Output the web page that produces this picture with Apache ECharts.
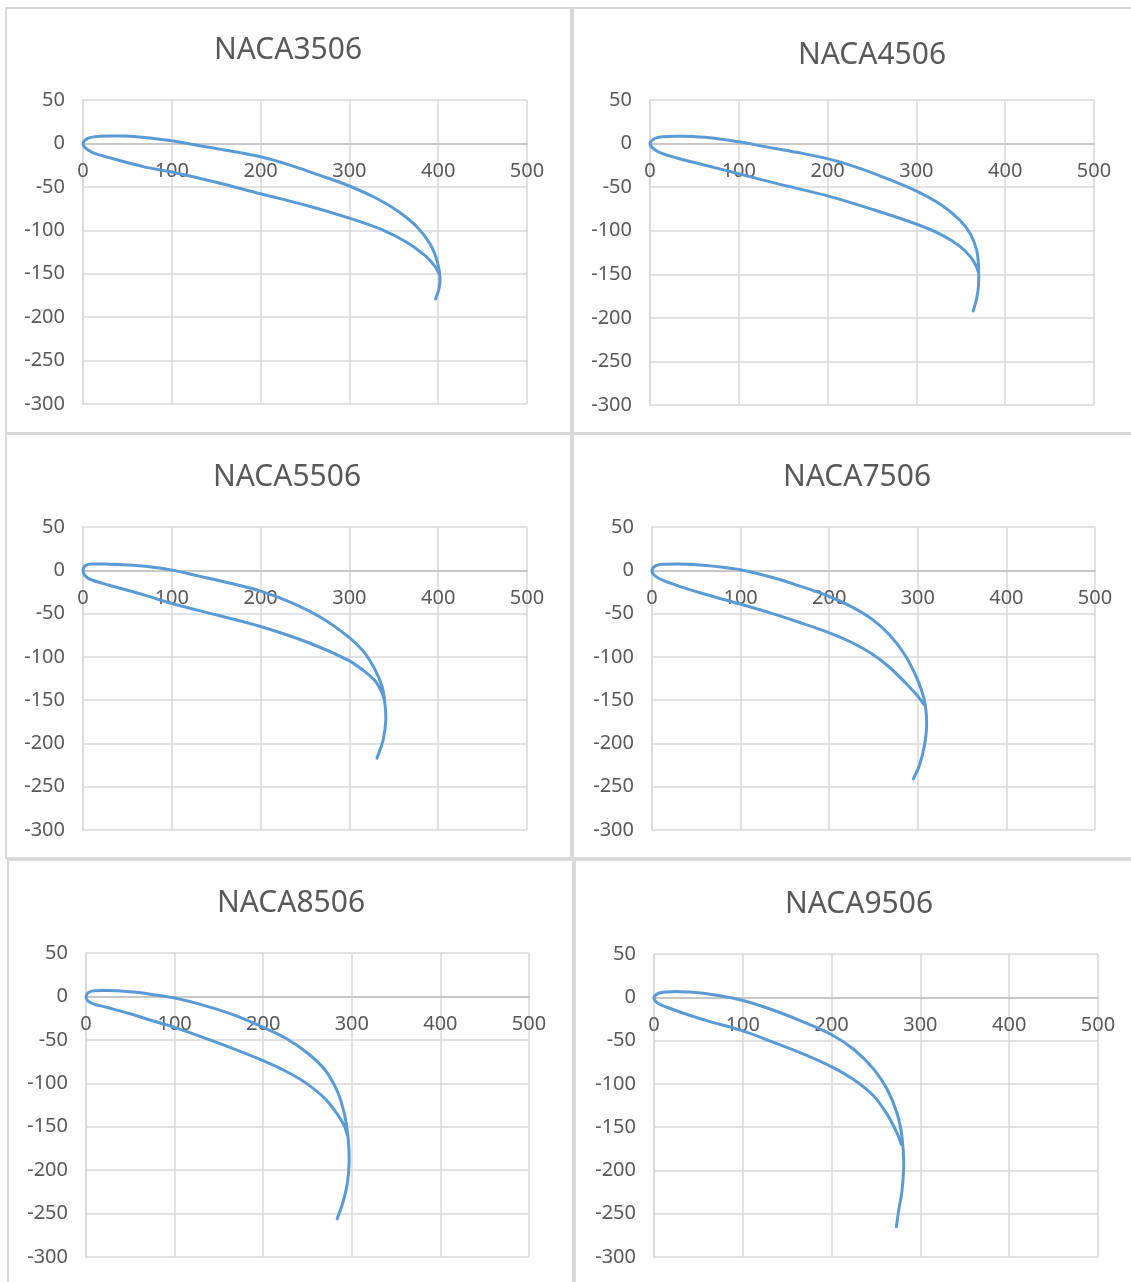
<!DOCTYPE html>
<html>
<head>
<meta charset="utf-8">
<script src="https://cdn.jsdelivr.net/npm/echarts@6/dist/echarts.min.js"></script>
<style>
html,body{margin:0;padding:0;background:#fff;}
#chart{width:1131px;height:1282px;}
</style>
</head>
<body>
<div id="chart"></div>
<script>
// ---- data ----
const titles = ['NACA3506', 'NACA4506', 'NACA5506', 'NACA7506', 'NACA8506', 'NACA9506'];
const xTicks = [0, 100, 200, 300, 400, 500];
const yTicks = [50, 0, -50, -100, -150, -200, -250, -300];

const upper3506 = [[0,0],[5.3,5.8],[13.5,7.7],[28,8.5],[48,8.5],[69,6.9],[100,3.1],[130,-2.3],[165,-8.5],[200,-15.4],[233,-25],[266,-36.5],[300,-49],[332,-64],[356,-79],[377,-97],[391,-116],[399,-136],[402,-154],[401,-167],[397,-179]];
const lower3506 = [[0,0],[3.3,-5.8],[11.5,-10.8],[28,-16],[69,-27],[100,-33],[151,-45],[200,-58],[254,-72],[300,-86],[336,-99],[365,-114],[385,-129],[396,-141],[401,-150]];

const upper4506 = [[0,0],[5.2,5.8],[13.3,7.7],[30,8.5],[50,8],[70.5,6.5],[100,2],[131,-3.8],[165,-10],[200,-17.3],[232,-27],[264,-39],[299,-54],[329,-71],[349,-88],[361,-104],[368,-123],[370,-142],[370,-162],[368,-177],[364,-192]];
const lower4506 = [[0,0],[4,-5.8],[12,-10.8],[30,-16.5],[70.5,-27],[100,-34.6],[151,-48],[200,-60],[252,-76],[299,-92],[329,-105],[349,-118],[361,-130],[367,-140],[370,-148]];

const upper5506 = [[0,0],[3.3,5.8],[11,7.2],[29.5,7],[50,6.2],[70.5,4.6],[99,0.5],[132,-7],[166,-15],[200,-24],[234,-37],[267,-54],[299,-77],[316,-94],[329,-115],[337,-135],[340,-154],[341,-173],[338,-196],[331,-217]];
const lower5506 = [[0,0],[3,-7],[11,-11.5],[29.5,-17.3],[70.5,-29],[99,-38],[152,-52],[200,-65],[255,-84],[299,-104],[316,-116],[329,-128],[336,-140],[340,-152]];

const upper7506 = [[0,0],[4.5,5.5],[15.8,7],[31,7.3],[46,6.8],[68.5,4.8],[98.6,0.8],[136,-8.4],[166,-18],[199.5,-30],[226.6,-42.8],[249,-57],[268,-74.5],[285,-97],[296,-118],[304,-138],[308.5,-156],[310,-179],[307.5,-202],[302,-225],[295,-241]];
const lower7506 = [[0,0],[2.6,-5.7],[12,-11.5],[31,-18.5],[61,-28],[99.4,-39],[136,-50],[166,-60],[199.5,-72],[226.6,-84],[249,-97],[268,-112],[287,-131],[298,-143],[307,-155]];

const upper8506 = [[0,0],[2.9,4.6],[10,6.5],[25,6.8],[46,5.7],[66,3.6],[100,-1.9],[132,-10],[166,-21],[200,-35.6],[227,-49],[251,-66],[270,-85],[284,-110],[292,-137],[296,-165],[297,-190],[295,-215],[290,-237],[283.5,-256]];
const lower8506 = [[0,0],[2,-5],[9,-8.8],[25,-13],[50,-20],[75,-28],[100,-35.6],[149,-53.5],[200,-74],[231,-89],[250,-101],[270,-118],[284,-136],[292,-150],[295,-160]];

const upper9506 = [[0,0],[4.9,4.6],[14.3,6.2],[29.3,6.5],[48,5.4],[70.7,2.3],[99.2,-3.5],[134.6,-15],[164.7,-27],[199.6,-43],[224.8,-60],[247.4,-83],[262.4,-106],[273.7,-134],[279.3,-161.5],[281.2,-192],[279.3,-223],[275.6,-246],[272.9,-265]];
const lower9506 = [[0,0],[3,-5.8],[14.3,-11.5],[29.3,-17],[59.4,-27],[99.2,-38.5],[134.6,-52],[164.7,-64],[199.6,-80],[224.8,-95],[247.4,-114],[262.4,-135],[273.7,-157],[278.5,-170]];

const uppers = [upper3506, upper4506, upper5506, upper7506, upper8506, upper9506];
const lowers = [lower3506, lower4506, lower5506, lower7506, lower8506, lower9506];

// ---- layout ----
const grids = [
  {left: 83, top: 100, width: 444, height: 304},
  {left: 650, top: 100, width: 444, height: 305},
  {left: 83, top: 527, width: 444, height: 303},
  {left: 652, top: 527, width: 443, height: 303},
  {left: 86, top: 953, width: 443, height: 304},
  {left: 654, top: 954, width: 444, height: 303}
];
const titlePos = [[288, 50], [872, 55], [287, 477], [857, 477], [291, 903], [859, 904]];
const frames = [
  [6, 8, 565, 425], [573, 8, 570, 425],
  [6, 434, 565, 424], [573, 434, 570, 424],
  [8, 860, 565, 430], [575, 860, 570, 430]
];

const labelStyle = {color: '#595959', fontSize: 20, fontFamily: 'Noto Sans'};
const gridColor = '#d9d9d9';
const lineColor = '#5b9bd5';

// smooth path through the mapped data points (cubic Bezier, Catmull-Rom style tangents)
function smoothPath(px, s) {
  const n = px.length;
  let d = 'M' + px[0][0] + ' ' + px[0][1];
  const tan = [];
  for (let i = 0; i < n; i++) {
    const p0 = px[Math.max(0, i - 1)], p2 = px[Math.min(n - 1, i + 1)];
    tan.push([p2[0] - p0[0], p2[1] - p0[1]]);
  }
  for (let i = 0; i < n - 1; i++) {
    const a = px[i], b = px[i + 1];
    const segLen = Math.hypot(b[0] - a[0], b[1] - a[1]);
    const ta = tan[i], tb = tan[i + 1];
    const la = Math.hypot(ta[0], ta[1]) || 1, lb = Math.hypot(tb[0], tb[1]) || 1;
    const c1 = [a[0] + ta[0] / la * segLen * s, a[1] + ta[1] / la * segLen * s];
    const c2 = [b[0] - tb[0] / lb * segLen * s, b[1] - tb[1] / lb * segLen * s];
    d += ' C' + c1[0] + ' ' + c1[1] + ' ' + c2[0] + ' ' + c2[1] + ' ' + b[0] + ' ' + b[1];
  }
  return d;
}

const xAxes = [], yAxes = [], series = [], graphics = [];
for (let i = 0; i < 6; i++) {
  const g = grids[i];
  const zeroFromBottom = g.height * (0 - yTicks[yTicks.length - 1]) / (yTicks[0] - yTicks[yTicks.length - 1]);
  xAxes.push({
    type: 'value', gridIndex: i, min: xTicks[0], max: xTicks[xTicks.length - 1], interval: 100,
    axisLine: {show: true, onZero: true, lineStyle: {color: '#bfbfbf', width: 1.5}},
    axisTick: {show: false},
    axisLabel: Object.assign({margin: -(zeroFromBottom - 18)}, labelStyle),
    splitLine: {show: true, lineStyle: {color: gridColor, width: 1.5}}
  });
  yAxes.push({
    type: 'value', gridIndex: i, min: yTicks[yTicks.length - 1], max: yTicks[0], interval: 50,
    axisLine: {show: true, onZero: false, lineStyle: {color: gridColor, width: 1.5}},
    axisTick: {show: false},
    axisLabel: Object.assign({margin: 18}, labelStyle),
    splitLine: {show: true, lineStyle: {color: gridColor, width: 1.5}}
  });
  const pts = lowers[i].slice().reverse().concat(uppers[i].slice(1));
  series.push({
    type: 'custom', coordinateSystem: 'cartesian2d', xAxisIndex: i, yAxisIndex: i,
    data: pts, z: 5, silent: true,
    renderItem: function (params, api) {
      if (params.dataIndex !== 0) return null;
      const px = pts.map(function (p) { return api.coord(p); });
      return {
        type: 'path',
        shape: {pathData: smoothPath(px, 0.36)},
        style: {fill: 'none', stroke: lineColor, lineWidth: 3, lineCap: 'round', lineJoin: 'round'}
      };
    }
  });
  const f = frames[i];
  graphics.push({
    type: 'rect', z: -1, silent: true,
    shape: {x: f[0], y: f[1], width: f[2], height: f[3]},
    style: {fill: 'none', stroke: '#d9d9d9', lineWidth: 2}
  });
  graphics.push({
    type: 'text', silent: true,
    style: {
      text: titles[i], x: titlePos[i][0], y: titlePos[i][1],
      textAlign: 'center', textVerticalAlign: 'middle',
      font: '30px "Noto Sans"', fill: '#595959'
    }
  });
}

const chart = echarts.init(document.getElementById('chart'), null, {renderer: 'canvas'});
chart.setOption({
  backgroundColor: '#ffffff',
  animation: false,
  grid: grids,
  xAxis: xAxes,
  yAxis: yAxes,
  series: series,
  graphic: graphics
});
</script>
</body>
</html>
